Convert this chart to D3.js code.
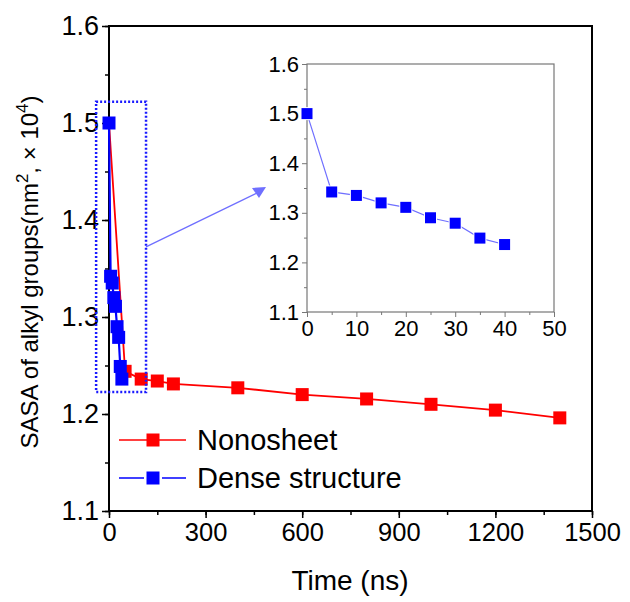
<!DOCTYPE html>
<html><head><meta charset="utf-8">
<script src="https://cdn.jsdelivr.net/npm/d3@7"></script>
<style>body{margin:0;background:#fff}svg{display:block;font-family:"Liberation Sans",Arial,sans-serif}</style>
</head><body><svg id="c" width="630" height="602"></svg>
<script>
const nanoTime = [0, 50, 100, 150, 200, 400, 600, 800, 1000, 1200, 1400];
const nanoSASA = [1.5, 1.244, 1.236, 1.234, 1.231, 1.227, 1.220, 1.2155, 1.210, 1.204, 1.196];
const denseTime = [0, 5, 10, 15, 20, 25, 30, 35, 40];
const denseSASA = [1.5, 1.342, 1.335, 1.320, 1.311, 1.290, 1.279, 1.249, 1.236];
const xTicks = [0, 300, 600, 900, 1200, 1500];
const yTicks = [1.1, 1.2, 1.3, 1.4, 1.5, 1.6];
const insetXTicks = [0, 10, 20, 30, 40, 50];
const insetYTicks = [1.1, 1.2, 1.3, 1.4, 1.5, 1.6];
const seriesNames = ["Nonosheet", "Dense structure"];

const svg = d3.select("#c");
const RED = "#ff0000", BLUE = "#0000ff";
const FONT = "Liberation Sans, Arial";

const x = d3.scaleLinear().domain([0, 1500]).range([109, 592]);
const y = d3.scaleLinear().domain([1.1, 1.6]).range([511, 26]);

const g = svg.append("g");
function axisStyle(sel, color, w){
  sel.select(".domain").remove();
  sel.selectAll("line").attr("stroke", color).attr("stroke-width", w);
}
const xMinor = d3.range(0, 1501, 150);
const yMinor = d3.range(1.1, 1.6001, 0.05);
g.append("g").attr("transform","translate(0,511)")
  .call(d3.axisBottom(x).tickValues(xMinor).tickSize(4).tickFormat(""))
  .call(s=>axisStyle(s,"#000",1.5));
g.append("g").attr("transform","translate(109,0)")
  .call(d3.axisLeft(y).tickValues(yMinor).tickSize(4).tickFormat(""))
  .call(s=>axisStyle(s,"#000",1.5));
const xa = g.append("g").attr("transform","translate(0,511)")
  .call(d3.axisBottom(x).tickValues(xTicks).tickSize(7).tickPadding(5).tickFormat(d3.format("d")));
axisStyle(xa,"#000",1.5);
xa.selectAll("text").attr("font-size",25.5).attr("fill","#000").attr("font-family",FONT);
const ya = g.append("g").attr("transform","translate(109,0)")
  .call(d3.axisLeft(y).tickValues(yTicks).tickSize(7).tickPadding(3).tickFormat(d3.format(".1f")));
axisStyle(ya,"#000",1.5);
ya.selectAll("text").attr("font-size",27).attr("fill","#000").attr("font-family",FONT);
g.append("rect").attr("x",109).attr("y",26).attr("width",592-109).attr("height",511-26)
  .attr("fill","none").attr("stroke","#000").attr("stroke-width",2);

// axis titles
svg.append("text").attr("x",350).attr("y",590).attr("text-anchor","middle")
  .attr("font-size",28).text("Time (ns)");
const yl = svg.append("text").attr("transform","translate(38,272) rotate(-90)")
  .attr("text-anchor","middle").attr("font-size",24);
yl.append("tspan").text("SASA of alkyl groups(nm");
yl.append("tspan").attr("dy",-10).attr("font-size",17).text("2");
yl.append("tspan").attr("dy",10).text(", \u00d7 10");
yl.append("tspan").attr("dy",-10).attr("font-size",17).text("4");
yl.append("tspan").attr("dy",10).text(")");

// data main
const nano = nanoTime.map((t,i)=>({t, v:nanoSASA[i]}));
const dense = denseTime.map((t,i)=>({t, v:denseSASA[i]}));
const line = d3.line().x(d=>x(d.t)).y(d=>y(d.v));
svg.append("path").datum(nano).attr("d",line).attr("fill","none").attr("stroke",RED).attr("stroke-width",1.8);
svg.selectAll(".rm").data(nano.slice(1)).join("rect")
  .attr("x",d=>x(d.t)-6.5).attr("y",d=>y(d.v)-6.5).attr("width",13).attr("height",13).attr("fill",RED);
svg.append("path").datum(dense).attr("d",line).attr("fill","none").attr("stroke",BLUE).attr("stroke-width",2.2);
svg.selectAll(".bm").data(dense).join("rect")
  .attr("x",d=>x(d.t)-6.5).attr("y",d=>y(d.v)-6.5).attr("width",13).attr("height",13).attr("fill",BLUE);

// dotted zoom rectangle
const rx0 = x(-40), rx1 = x(115), ry0 = y(1.522), ry1 = y(1.2227);
svg.append("rect").attr("x",rx0).attr("y",ry0).attr("width",rx1-rx0).attr("height",ry1-ry0)
  .attr("fill","none").attr("stroke","#1a1aff").attr("stroke-width",2.5).attr("stroke-dasharray","2,2");
const ay = (ry0+ry1)/2;
svg.append("line").attr("x1",rx1).attr("y1",ay).attr("x2",257).attr("y2",193)
  .attr("stroke","#6f6fff").attr("stroke-width",1.3);
svg.append("path").attr("d",`M252,188 L266,187 L259,198 Z`).attr("fill","#6f6fff");

// legend
const lg = svg.append("g");
[[RED,440,false],[BLUE,478,true]].forEach(([c,ly,gap],i)=>{
  if(gap){
    lg.append("line").attr("x1",119).attr("x2",144).attr("y1",ly).attr("y2",ly).attr("stroke",c).attr("stroke-width",1.5);
    lg.append("line").attr("x1",162).attr("x2",186).attr("y1",ly).attr("y2",ly).attr("stroke",c).attr("stroke-width",1.5);
  } else {
    lg.append("line").attr("x1",119).attr("x2",186).attr("y1",ly).attr("y2",ly).attr("stroke",c).attr("stroke-width",1.5);
  }
  lg.append("rect").attr("x",146.5).attr("y",ly-6.5).attr("width",13).attr("height",13).attr("fill",c);
  lg.append("text").attr("x",197).attr("y",ly+10).attr("font-size",29).attr("font-family",FONT).text(seriesNames[i]);
});

// inset
const ix = d3.scaleLinear().domain([0,50]).range([307,554]);
const iy = d3.scaleLinear().domain([1.1,1.6]).range([312,64]);
const ig = svg.append("g");
const GR = "#777";
ig.append("g").attr("transform","translate(0,312)")
  .call(d3.axisBottom(ix).tickValues(d3.range(5,50,10)).tickSize(3).tickFormat(""))
  .call(s=>axisStyle(s,GR,1));
ig.append("g").attr("transform","translate(307,0)")
  .call(d3.axisLeft(iy).tickValues(d3.range(1.15,1.6,0.1)).tickSize(3).tickFormat(""))
  .call(s=>axisStyle(s,GR,1));
const ixa = ig.append("g").attr("transform","translate(0,312)")
  .call(d3.axisBottom(ix).tickValues(insetXTicks).tickSize(5).tickPadding(3).tickFormat(d3.format("d")));
axisStyle(ixa,GR,1);
ixa.selectAll("text").attr("font-size",22).attr("fill","#000").attr("font-family",FONT);
const iya = ig.append("g").attr("transform","translate(307,0)")
  .call(d3.axisLeft(iy).tickValues(insetYTicks).tickSize(5).tickPadding(3).tickFormat(d3.format(".1f")));
axisStyle(iya,GR,1);
iya.selectAll("text").attr("font-size",22).attr("fill","#000").attr("font-family",FONT);
ig.append("rect").attr("x",307).attr("y",64).attr("width",554-307).attr("height",312-64)
  .attr("fill","none").attr("stroke",GR).attr("stroke-width",1.2);
const iline = d3.line().x(d=>ix(d.t)).y(d=>iy(d.v));
ig.append("path").datum(dense).attr("d",iline).attr("fill","none").attr("stroke","#6f6fff").attr("stroke-width",1.2);
ig.selectAll(".im").data(dense).join("rect")
  .attr("x",d=>ix(d.t)-5.5).attr("y",d=>iy(d.v)-5.5).attr("width",11).attr("height",11)
  .attr("fill",BLUE).attr("stroke","#fff").attr("stroke-width",2).attr("paint-order","stroke");
</script></body></html>
